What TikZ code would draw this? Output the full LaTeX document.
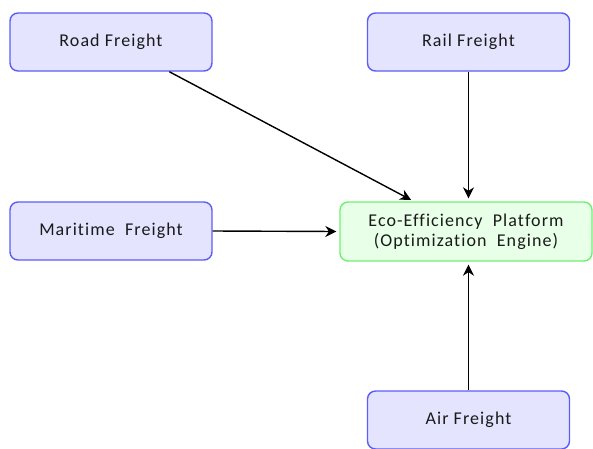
\documentclass[tikz,border=0pt]{standalone}
\usepackage{fontspec}
\setmainfont{Carlito}[LetterSpace=6,Ligatures=NoCommon]
\usetikzlibrary{arrows.meta}
\definecolor{srcfill}{HTML}{E4E4FF}
\definecolor{srcline}{HTML}{5C5CF8}
\definecolor{hubfill}{HTML}{E8FFE8}
\definecolor{hubline}{HTML}{70F070}
\definecolor{txt}{HTML}{1A1A1A}

\begin{document}
\begin{tikzpicture}[x=1pt,y=-1pt,>={Stealth[length=11pt,width=11pt]},
  srcbox/.style={draw=srcline,fill=srcfill,line width=1.4pt,rounded corners=8pt,
    minimum width=202pt,minimum height=58pt,text=txt,font=\fontsize{18}{20}\selectfont},
  hubbox/.style={srcbox,draw=hubline,fill=hubfill,minimum width=252pt,minimum height=59pt,align=center},
  flow/.style={->,line width=1.4pt,shorten >=3pt}]
\useasboundingbox (0,0) rectangle (593,448);
\clip (0,0) rectangle (593,448);
\node[srcbox] (road) at (111,42) {Road Freight};
\node[srcbox] (rail) at (468.5,42) {Rail Freight};
\node[srcbox] (sea) at (111,231) {Maritime\ \ Freight};
\node[srcbox] (air) at (468.5,420) {Air Freight};
\node[hubbox] (hub) at (466,231.5) {Eco-Efficiency\ \ Platform\\(Optimization\ \ Engine)};
\draw[flow] (road.-27) -- (hub.150);
\draw[flow] (rail.south) -- (rail.south |- hub.north);
\draw[flow] (sea.east) -- (hub.west);
\draw[flow] (air.north) -- (air.north |- hub.south);
\end{tikzpicture}
\end{document}
